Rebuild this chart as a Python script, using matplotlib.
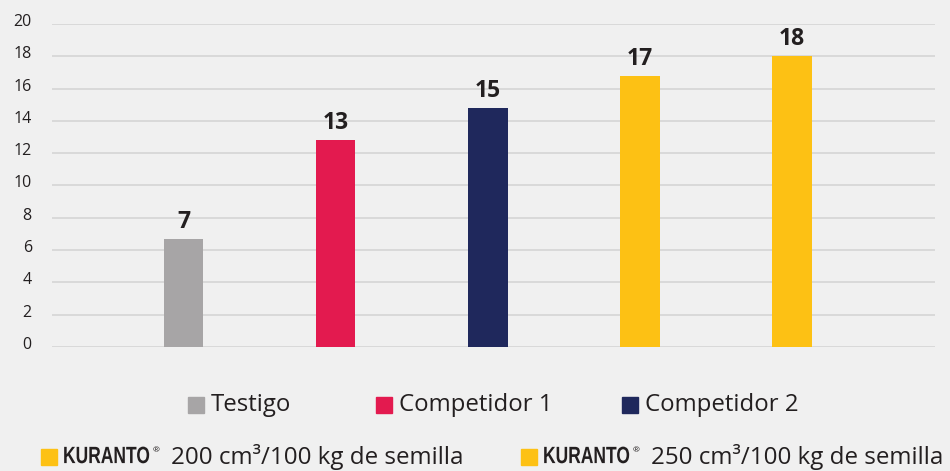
import matplotlib
matplotlib.use('Agg')
import matplotlib.pyplot as plt, numpy as np
from matplotlib.patches import Rectangle
from matplotlib.transforms import ScaledTranslation, Affine2D
from matplotlib.patheffects import AbstractPathEffect

plt.rcParams['font.family'] = ['Open Sans', 'DejaVu Sans']

categorias = ['Testigo', 'Competidor 1', 'Competidor 2', 'Kuranto 200', 'Kuranto 250']
valores = [6.7, 12.8, 14.8, 16.8, 18.0]
etiquetas = ['7', '13', '15', '17', '18']
colores = ['#a7a5a6', '#e31a4f', '#1f285c', '#fdc114', '#fdc114']
yticks = [0, 2, 4, 6, 8, 10, 12, 14, 16, 18, 20]

leyenda1 = ['Testigo', 'Competidor 1', 'Competidor 2']
leyenda2 = ['200 cm³/100 kg de semilla', '250 cm³/100 kg de semilla']

bg = '#f0f0f0'
txt = '#231f20'


class Alto(AbstractPathEffect):
    '''estira en vertical el texto -> letra condensada de la marca'''
    def __init__(self, y0, sy):
        super().__init__()
        self.y0, self.sy = y0, sy

    def draw_path(self, renderer, gc, tpath, affine, rgbFace=None):
        tr = affine + Affine2D().translate(0, -self.y0).scale(1, self.sy).translate(0, self.y0)
        renderer.draw_path(gc, tpath, tr, rgbFace)


fig = plt.figure(figsize=(9.5, 4.71), dpi=100, facecolor=bg)
ax = fig.add_axes([52/950, 1-347/471, 883/950, (347-24)/471])
ax.set_facecolor(bg)

x = np.arange(len(valores))
ax.bar(x, valores, width=0.26, color=colores, zorder=3)
for xi, v, e in zip(x, valores, etiquetas):
    ax.text(xi, v + 0.3, e, ha='center', va='bottom', fontsize=16.5,
            fontweight='bold', color=txt, zorder=4)

ax.set_ylim(0, 20)
ax.set_xlim(-0.865, 4.94)
ax.set_yticks(yticks)
ax.set_xticks([])
ax.yaxis.grid(True, color='#d9d9d9', linewidth=1.4, zorder=0)
ax.tick_params(axis='y', length=0, pad=21, labelsize=11.5, labelcolor=txt)
off = ScaledTranslation(0.09, 4/100, fig.dpi_scale_trans)
for lab in ax.get_yticklabels():
    lab.set_transform(lab.get_transform() + off)
for s in ax.spines.values():
    s.set_visible(False)

# leyenda fila 1
pos1 = [188, 376, 622]
for px, lab, c in zip(pos1, leyenda1, colores[:3]):
    fig.patches.append(Rectangle((px/950, 1-413/471), 16/950, 16/471,
                                 transform=fig.transFigure, color=c))
    fig.text((px+23)/950, 1-405/471, lab, fontsize=17.3, color=txt,
             va='center', ha='left')

# leyenda fila 2
pos2 = [41, 521]
renderer = fig.canvas.get_renderer()
for px, lab in zip(pos2, leyenda2):
    fig.patches.append(Rectangle((px/950, 1-465/471), 16/950, 16/471,
                                 transform=fig.transFigure, color='#fdc114'))
    t = fig.text((px+22)/950, 1-457/471, 'KURANTO', fontsize=17,
                 family=['Liberation Sans', 'DejaVu Sans'], fontweight='bold',
                 color=txt, va='center', ha='left')
    w = t.get_window_extent(renderer).width
    t.set_fontsize(17 * 87 / w)
    bb = t.get_window_extent(renderer)
    t.set_path_effects([Alto((bb.y0 + bb.y1) / 2, w / 87)])
    fig.text((px+112)/950, 1-451/471, '®', fontsize=6, color=txt,
             va='center', ha='left')
    fig.text((px+130)/950, 1-457/471, lab, fontsize=17.4, color=txt,
             va='center', ha='left')

fig.savefig('out.png', dpi=100, facecolor=bg)
